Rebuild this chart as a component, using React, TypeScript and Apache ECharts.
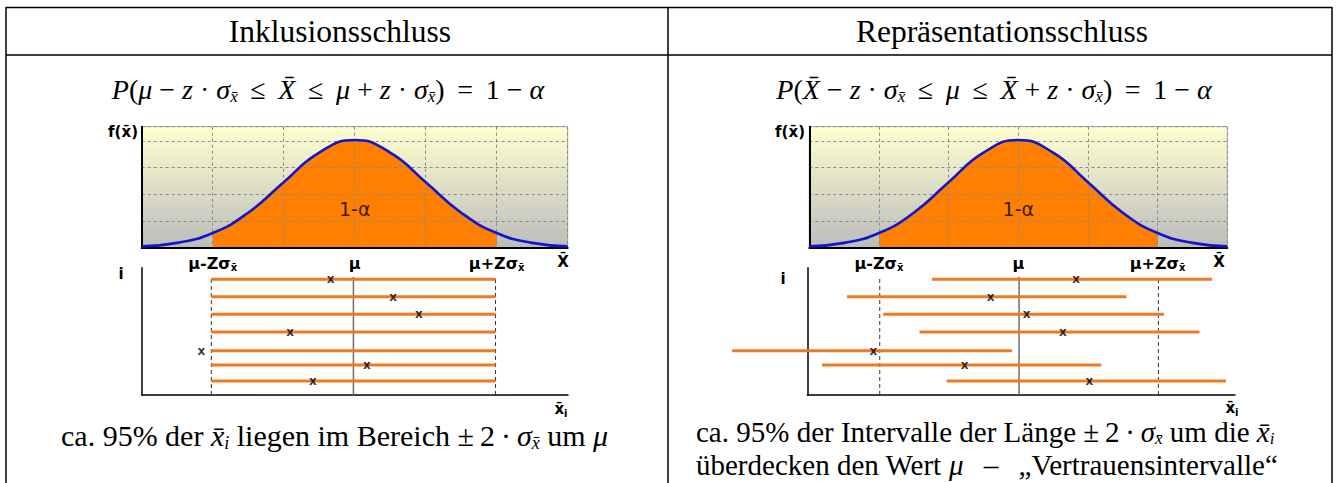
import React, { useEffect, useRef } from "react";
import * as echarts from "echarts";

// ---------- data (x in units of sigma around mu) ----------
const densityX = [-3, -2.5, -2, -1.5, -1, -0.5, 0, 0.5, 1, 1.5, 2, 2.5, 3];
const densityY = [0.05, 0.18, 0.55, 1.31, 2.45, 3.56, 4.03, 3.56, 2.45, 1.31, 0.55, 0.18, 0.05];
const bandLo = -2; // mu - z*sigma
const bandHi = 2; // mu + z*sigma
const rowLevels = [6.95, 5.91, 4.85, 3.79, 2.66, 1.8, 0.84];
const inclMeans = [-0.32, 0.56, 0.92, -0.89, -2.14, 0.19, -0.57];
const reprMeans = [0.82, -0.41, 0.11, 0.63, -2.09, -0.78, 1.01];
const reprLo = [-1.25, -2.47, -1.95, -1.43, -4.12, -2.83, -1.04];
const reprHi = [2.77, 1.54, 2.08, 2.59, -0.1, 1.18, 2.97];
const guideTop = 7.11;
const peakLabel = "1-α";

const SERIF = "'Liberation Serif','Times New Roman',serif";
const SANS = "'DejaVu Sans',Verdana,sans-serif";
const ORANGE_FILL = "#FF8000";
const ORANGE_LINE = "#F07A22";
const BLUE = "#1414C8";

const XB = "x\u0304";
const XBU = "X\u0304";
const TS = "\u2009";

function tickFormatter(v: number) {
  if (Math.abs(v - bandLo) < 1e-6) return "{b|μ-Zσ}{s|" + XB + "}";
  if (Math.abs(v) < 1e-6) return "{b|μ}";
  if (Math.abs(v - bandHi) < 1e-6) return "{b|μ+Zσ}{s|" + XB + "}";
  return "";
}

const mathRich = (size: number, sub: number, pad?: number) => {
  const half = Math.floor(size / 2);
  const p = pad === undefined ? size - half : pad;
  return {
    n: { fontSize: size, lineHeight: size, fontFamily: SERIF, color: "#000" },
    i: { fontSize: size, lineHeight: size, fontFamily: SERIF, fontStyle: "italic", color: "#000" },
    s: {
      fontSize: sub,
      lineHeight: half,
      fontFamily: SERIF,
      fontStyle: "italic",
      color: "#000",
      padding: [p, 0, 0, 0],
    },
  };
};

function text(x: number, y: number, t: string, extra: any = {}, align = "center", valign = "middle") {
  return {
    type: "text",
    x,
    y,
    silent: true,
    style: {
      text: t,
      fill: "#000",
      align,
      verticalAlign: valign,
      textAlign: align,
      textVerticalAlign: valign,
      ...extra,
    },
  };
}

function line(x1: number, y1: number, x2: number, y2: number) {
  return {
    type: "line",
    silent: true,
    shape: { x1, y1, x2, y2 },
    style: { stroke: "#000", lineWidth: 1.5 },
  };
}

export default function App() {
  const ref = useRef<HTMLDivElement>(null);
  useEffect(() => {
    document.body.style.margin = "0";
    const chart = echarts.init(ref.current!, null, { renderer: "svg" });

    const bg = new echarts.graphic.LinearGradient(0, 0, 0, 1, [
      { offset: 0, color: "#FFFFD0" },
      { offset: 1, color: "#BCBCBC" },
    ]);
    const span = densityX[densityX.length - 1] - densityX[0];
    const a = (bandLo - densityX[0]) / span;
    const b = (bandHi - densityX[0]) / span;
    const T = "rgba(255,128,0,0)";
    const bandGrad = new echarts.graphic.LinearGradient(0, 0, 1, 0, [
      { offset: 0, color: T },
      { offset: a - 0.0005, color: T },
      { offset: a, color: ORANGE_FILL },
      { offset: b, color: ORANGE_FILL },
      { offset: b + 0.0005, color: T },
      { offset: 1, color: T },
    ]);
    const curve = densityX.map((x, i) => [x, densityY[i]]);

    const gridLine = { show: true, lineStyle: { color: "#8a8a8a", type: [3, 3], width: 1 } };
    const tickRich = {
      b: { fontFamily: SANS, fontWeight: "bold", fontSize: 16, lineHeight: 16, color: "#000" },
      s: { fontFamily: SANS, fontWeight: "bold", fontSize: 10, lineHeight: 8, color: "#000", padding: [8, 0, 0, 0] },
    };
    const upperX = (g: number) => ({
      gridIndex: g,
      type: "value",
      min: -3,
      max: 3,
      interval: 1,
      z: 3,
      axisLine: { show: true, onZero: false, lineStyle: { color: "#000", width: 2 } },
      axisTick: { show: false },
      splitLine: gridLine,
      axisLabel: { margin: 8, formatter: tickFormatter, rich: tickRich },
    });
    const upperY = (g: number) => ({
      gridIndex: g,
      type: "value",
      min: 0,
      max: 4.53,
      interval: 1,
      z: 3,
      axisLine: { show: true, onZero: false, lineStyle: { color: "#000", width: 2 } },
      axisTick: { show: false },
      axisLabel: { show: false },
      splitLine: gridLine,
    });
    const lowerX = (g: number, min: number, max: number) => ({
      gridIndex: g,
      type: "value",
      min,
      max,
      axisLine: { show: true, onZero: false, lineStyle: { color: "#000", width: 1.5 } },
      axisTick: { show: false },
      axisLabel: { show: false },
      splitLine: { show: false },
    });
    const lowerY = (g: number) => ({
      gridIndex: g,
      type: "value",
      min: 0,
      max: 7.65,
      axisLine: { show: true, onZero: false, lineStyle: { color: "#000", width: 1.5 } },
      axisTick: { show: false },
      axisLabel: { show: false },
      splitLine: { show: false },
    });

    const series: any[] = [];
    [0, 1].forEach((g) => {
      series.push({
        type: "line",
        xAxisIndex: g,
        yAxisIndex: g,
        data: curve,
        smooth: true,
        symbol: "none",
        lineStyle: { width: 0 },
        areaStyle: { color: bandGrad, opacity: 1 },
        z: 2,
        silent: true,
      });
      series.push({
        type: "line",
        xAxisIndex: g,
        yAxisIndex: g,
        data: curve,
        smooth: true,
        symbol: "none",
        lineStyle: { width: 2.6, color: BLUE },
        z: 5,
        silent: true,
      });
      series.push({
        type: "scatter",
        xAxisIndex: g,
        yAxisIndex: g,
        data: [[0, 1.45]],
        symbolSize: 0,
        z: 6,
        silent: true,
        label: {
          show: true,
          position: "inside",
          formatter: peakLabel,
          fontFamily: SANS,
          fontSize: 19,
          color: "#000",
        },
      });
    });

    const lowerGuides = (g: number) => {
      [bandLo, bandHi].forEach((v) =>
        series.push({
          type: "line",
          xAxisIndex: g,
          yAxisIndex: g,
          data: [[v, 0], [v, guideTop]],
          symbol: "none",
          lineStyle: { color: "#333", width: 1, type: [4, 3] },
          z: 2,
          silent: true,
        })
      );
      series.push({
        type: "line",
        xAxisIndex: g,
        yAxisIndex: g,
        data: [[0, 0], [0, guideTop]],
        symbol: "none",
        lineStyle: { color: "#6e6e6e", width: 1.5 },
        z: 2,
        silent: true,
      });
    };
    const lowerRows = (g: number, lo: number[], hi: number[], means: number[]) => {
      series.push({
        type: "custom",
        xAxisIndex: g,
        yAxisIndex: g,
        data: rowLevels.map((y, i) => [lo[i], hi[i], y]),
        encode: { x: [0, 1], y: 2 },
        clip: false,
        z: 3,
        silent: true,
        renderItem: (_p: any, api: any) => {
          const p1 = api.coord([api.value(0), api.value(2)]);
          const p2 = api.coord([api.value(1), api.value(2)]);
          return {
            type: "line",
            shape: { x1: p1[0], y1: p1[1], x2: p2[0], y2: p2[1] },
            style: { stroke: ORANGE_LINE, lineWidth: 3 },
          };
        },
      });
      series.push({
        type: "scatter",
        xAxisIndex: g,
        yAxisIndex: g,
        data: means.map((m, i) => [m, rowLevels[i]]),
        symbolSize: 1,
        itemStyle: { color: "rgba(0,0,0,0)" },
        z: 6,
        silent: true,
        label: {
          show: true,
          position: "inside",
          formatter: "x",
          fontFamily: SANS,
          fontWeight: "bold",
          fontSize: 12,
          color: "#000",
        },
      });
    };
    lowerGuides(2);
    lowerRows(2, rowLevels.map(() => bandLo), rowLevels.map(() => bandHi), inclMeans);
    lowerGuides(3);
    lowerRows(3, reprLo, reprHi, reprMeans);

    const LE = " " + TS + "≤" + TS + " ";
    const DOT = " · ";
    const leftFormula =
      "{i|P}{n|(}{i|μ}{n| − }{i|z}{n|" + DOT + "}{i|σ}{s|" + XB + "}{n|" + LE + "}{i|" + XBU + "}{n|" + LE + "}{i|μ}{n| + }{i|z}{n|" + DOT + "}{i|σ}{s|" + XB + "}{n|)" + TS + " = " + TS + "1 − }{i|α}";
    const rightFormula =
      "{i|P}{n|(}{i|" + XBU + "}{n| − }{i|z}{n|" + DOT + "}{i|σ}{s|" + XB + "}{n|" + LE + "}{i|μ}{n|" + LE + "}{i|" + XBU + "}{n| + }{i|z}{n|" + DOT + "}{i|σ}{s|" + XB + "}{n|)" + TS + " = " + TS + "1 − }{i|α}";
    const PM = "±" + TS + "2" + TS + "·" + TS;
    const bottomLeft =
      "{n|ca. 95% der }{i|" + XB + "}{s|i}{n| liegen im Bereich " + PM + "}{i|σ}{s|" + XB + "}{n| um }{i|μ}";
    const bottomRight1 =
      "{n|ca. 95% der Intervalle der Länge " + PM + "}{i|σ}{s|" + XB + "}{n| um die }{i|" + XB + "}{s|i}";
    const bottomRight2 = "{n|überdecken den Wert }{i|μ}{n|  " + TS + "–" + TS + "  „Vertrauensintervalle“}";

    const fr = mathRich(28, 17);
    const brL = mathRich(30, 18);
    const br = mathRich(29, 17, 13);
    const lab = { fontFamily: SANS, fontWeight: "bold", fontSize: 15 };
    const subLab = {
      a: { fontFamily: SANS, fontWeight: "bold", fontSize: 15, lineHeight: 15, color: "#000" },
      s: { fontFamily: SANS, fontWeight: "bold", fontSize: 10, lineHeight: 8, color: "#000", padding: [8, 0, 0, 0] },
    };

    const graphic: any[] = [
      line(6, 7.5, 1332, 7.5),
      line(6, 55, 1332, 55),
      line(6, 7, 6, 483),
      line(668, 7, 668, 483),
      line(1332, 7, 1332, 483),
      text(340, 31, "Inklusionsschluss", { fontFamily: SERIF, fontSize: 31.5 }),
      text(1002, 31, "Repräsentationsschluss", { fontFamily: SERIF, fontSize: 31.5 }),
      text(328, 89, leftFormula, { rich: fr }),
      text(994, 89, rightFormula, { rich: fr }),
      text(138, 132, "f(" + XB + ")", { ...lab, fontSize: 15 }, "right"),
      text(805, 132, "f(" + XB + ")", { ...lab, fontSize: 15 }, "right"),
      text(563, 262, XBU, lab),
      text(1219, 262, XBU, lab),
      text(121, 274, "i", lab),
      text(783, 279, "i", lab),
      text(561, 409, "{a|" + XB + "}{s|i}", { rich: subLab }),
      text(1232, 408, "{a|" + XB + "}{s|i}", { rich: subLab }),
      text(61, 435, bottomLeft, { rich: brL }, "left"),
      text(696, 432, bottomRight1, { rich: br }, "left"),
      text(696, 465, bottomRight2, { rich: br }, "left"),
    ];

    chart.setOption({
      animation: false,
      backgroundColor: "#fff",
      grid: [
        { left: 141.7, top: 126.7, width: 426, height: 121, show: true, backgroundColor: bg, borderColor: "#a8a8a8", borderWidth: 1 },
        { left: 809.3, top: 126.7, width: 418, height: 121, show: true, backgroundColor: bg, borderColor: "#a8a8a8", borderWidth: 1 },
        { left: 141.7, top: 267.7, width: 426.3, height: 127.3 },
        { left: 807.3, top: 267.7, width: 427.7, height: 127.3 },
      ],
      xAxis: [upperX(0), upperX(1), lowerX(2, -2.98, 3.02), lowerX(3, -3.04, 3.1)],
      yAxis: [upperY(0), upperY(1), lowerY(2), lowerY(3)],
      series,
      graphic,
    } as any);

    return () => chart.dispose();
  }, []);
  return <div ref={ref} style={{ width: 1336, height: 483, background: "#fff" }} />;
}
